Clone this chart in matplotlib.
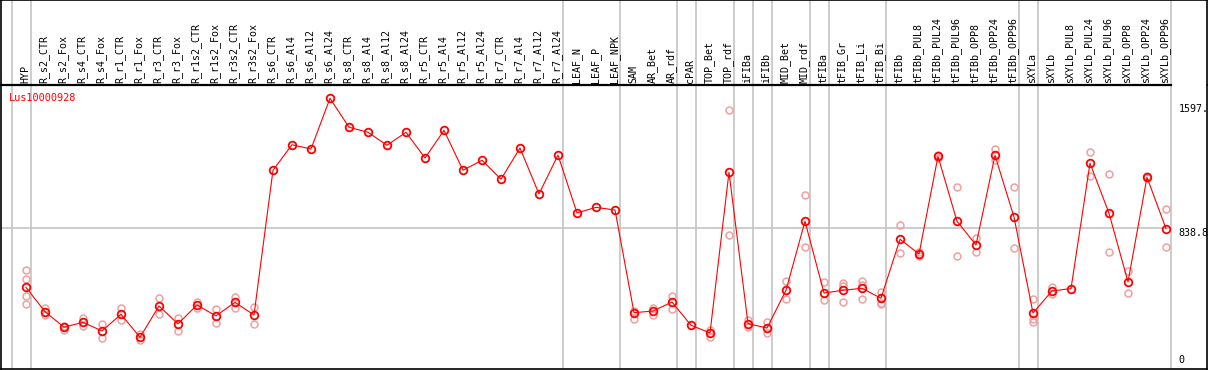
"""Expression profile of Lus10000928 across tissues / treatments"""
import matplotlib
matplotlib.use('Agg')
import matplotlib.pyplot as plt

plt.rcParams['font.family'] = ['DejaVu Sans Mono']
plt.rcParams['savefig.facecolor'] = 'white'

# sample labels (column order)
samples = ['HYP', 'R_s2_CTR', 'R_s2_Fox', 'R_s4_CTR', 'R_s4_Fox', 'R_r1_CTR', 'R_r1_Fox',
           'R_r3_CTR', 'R_r3_Fox', 'R_r1s2_CTR', 'R_r1s2_Fox', 'R_r3s2_CTR', 'R_r3s2_Fox',
           'R_s6_CTR', 'R_s6_Al4', 'R_s6_Al12', 'R_s6_Al24', 'R_s8_CTR', 'R_s8_Al4',
           'R_s8_Al12', 'R_s8_Al24', 'R_r5_CTR', 'R_r5_Al4', 'R_r5_Al12', 'R_r5_Al24',
           'R_r7_CTR', 'R_r7_Al4', 'R_r7_Al12', 'R_r7_Al24', 'LEAF_N', 'LEAF_P', 'LEAF_NPK',
           'SAM', 'AR_Bet', 'AR_rdf', 'cPAR', 'TOP_Bet', 'TOP_rdf', 'iFIBa', 'iFIBb',
           'MID_Bet', 'MID_rdf', 'tFIBa', 'tFIB_Gr', 'tFIB_Li', 'tFIB_Bi', 'tFIBb',
           'tFIBb_PUL8', 'tFIBb_PUL24', 'tFIBb_PUL96', 'tFIBb_OPP8', 'tFIBb_OPP24',
           'tFIBb_OPP96', 'sXYLa', 'sXYLb', 'sXYLb_PUL8', 'sXYLb_PUL24', 'sXYLb_PUL96',
           'sXYLb_OPP8', 'sXYLb_OPP24', 'sXYLb_OPP96']

# mean expression per sample
means = [476, 327, 232, 262, 209, 311, 170, 362, 252, 368, 301, 384, 307,
         1192, 1348, 1322, 1632, 1455, 1424, 1345, 1424, 1267, 1436, 1192, 1253,
         1137, 1328, 1047, 1285,
         931, 965, 949,
         321, 331, 386, 244, 197, 1180, 254, 227, 458, 880, 441, 458, 470, 409,
         770, 680, 1277, 880, 735, 1283, 906,
         319, 454, 468, 1235, 929, 509, 1149, 835]

# individual replicates per sample
replicates = [[582, 525, 423, 372], [351, 307], [241, 215], [290, 238], [252, 164],
              [350, 274], [191, 154], [409, 311], [288, 209], [384, 351], [345, 256],
              [417, 351], [354, 252],
              [], [], [], [], [], [], [], [], [], [], [], [], [], [], [], [],
              [], [], [],
              [333, 284], [350, 309], [423, 342], [], [215, 174], [1561, 794],
              [276, 235], [264, 195], [513, 406], [1039, 721], [507, 400],
              [502, 484, 384], [515, 490, 403], [447, 382, 374],
              [855, 684], [692, 668], [1285, 1267], [1088, 666], [780, 690],
              [1322, 1255], [1088, 717],
              [405, 284, 264], [476, 437], [], [1304, 1159], [1167, 690], [578, 439],
              [1155, 1143], [953, 721]]

# last sample index of each group (separator lines)
group_ends = [-1, 0, 28, 31, 34, 35, 37, 38, 39, 41, 42, 45, 52, 53, 60]

gene = 'Lus10000928'
y_ticks = [0, 838.8, 1597]
y_tick_labels = ['0', '838.8', '1597.']

W, H = 1209, 370


def px_rect(x0, y0, x1, y1):
    return [x0 / W, 1 - y1 / H, (x1 - x0) / W, (y1 - y0) / H]


fig = plt.figure(figsize=(W / 100, H / 100), dpi=100)
ax = fig.add_axes(px_rect(1, 85, 1207, 369))
hx = fig.add_axes(px_rect(1, 0, 1207, 85), sharex=ax)

x0 = (1 - 26) / 19
x1 = (1207 - 26) / 19
ax.set_xlim(x0, x1)
ax.set_ylim(-23.6, 1713.4)
hx.set_ylim(0, 85)

for a in (ax, hx):
    a.set_xticks([])
    a.set_yticks([])
    for s in a.spines.values():
        s.set_color('black')
        s.set_linewidth(1.2)
ax.spines['top'].set_visible(False)
hx.spines['bottom'].set_visible(False)

grid_c = '#c4c4c4'
last = group_ends[-1] + 0.24
for g in group_ends:
    ax.axvline(g + 0.24, color=grid_c, lw=1.2, zorder=1)
    hx.axvline(g + 0.24, color=grid_c, lw=1.2, zorder=1)
ax.plot([x0, last], [y_ticks[1], y_ticks[1]], color=grid_c, lw=1.2, zorder=1)
hx.plot([x0, last], [0, 0], color='black', lw=1.6, zorder=2, clip_on=False)

# header labels
for i, name in enumerate(samples):
    hx.text(i - 0.05, 2, name, rotation=90, ha='center', va='bottom', fontsize=7.2)

# replicates
for i, reps in enumerate(replicates):
    if reps:
        ax.plot([i] * len(reps), reps, linestyle='none', marker='o', markersize=5,
                markerfacecolor='none', markeredgecolor='#f0a0a0', markeredgewidth=1.1, zorder=2)

# mean profile
ax.plot(range(len(means)), means, color='red', lw=0.8, zorder=3)
ax.plot(range(len(means)), means, linestyle='none', marker='o', markersize=5.5,
        markerfacecolor='none', markeredgecolor='red', markeredgewidth=1.3, zorder=4)

# right side scale labels
xl = 60.65
ax.text(xl, y_ticks[2], y_tick_labels[2], va='top', ha='left', fontsize=7.2)
ax.text(xl, y_ticks[1], y_tick_labels[1], va='top', ha='left', fontsize=7.2)
ax.text(xl, y_ticks[0], y_tick_labels[0], va='bottom', ha='left', fontsize=7.2)

ax.text(-0.88, 1665, gene, color='red', va='top', ha='left', fontsize=7.4)

fig.savefig('out.png', dpi=100)
plt.close(fig)
